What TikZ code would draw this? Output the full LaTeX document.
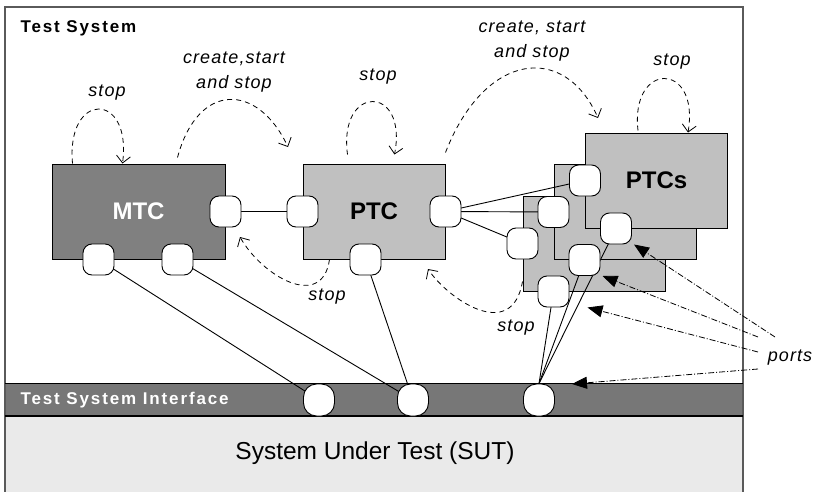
\documentclass[tikz,border=0pt]{standalone}
\usepackage{fontspec}
\setmainfont{Liberation Sans}
\newfontfamily\widefont[LetterSpace=11]{Liberation Sans}
\newfontfamily\labelfont[LetterSpace=6]{Liberation Sans}
\usetikzlibrary{calc,arrows.meta}

\definecolor{mtcgray}{HTML}{808080}
\definecolor{ptcgray}{HTML}{C0C0C0}
\definecolor{bandgray}{HTML}{777777}
\definecolor{sutgray}{HTML}{EAEAEA}
\definecolor{framegray}{HTML}{5A5A5A}

\pgfdeclarelayer{back}
\pgfdeclarelayer{wires}
\pgfsetlayers{back,wires,main}

\begin{document}
\begin{tikzpicture}[x=1pt, y=1pt,
    box/.style={draw=black, line width=1pt, fill=ptcgray, minimum width=142pt, minimum height=95pt, inner sep=0pt, font=\fontsize{24}{28}\selectfont\bfseries},
    port/.style={draw=black, line width=0.9pt, fill=white, rounded corners=9pt, minimum size=31pt, inner sep=0pt},
    ifport/.style={port, minimum height=32pt, rounded corners=13pt},
    wire/.style={line width=0.9pt},
    msg/.style={line width=0.8pt, dash pattern=on 5pt off 4pt, -{Straight Barb[length=7pt,width=14pt]}},
    lbl/.style={font=\labelfont\fontsize{18}{25}\selectfont\itshape, align=center},
    hint/.style={line width=0.8pt, dash pattern=on 6pt off 2pt on 1pt off 2pt, -{Triangle[length=15pt,width=12pt]}}]

    \useasboundingbox (0,0) rectangle (813,491);
    
    \begin{pgfonlayer}{back}
    \fill[white] (0,0) rectangle (813,491);
    
    \node[fill=sutgray, minimum width=738pt, minimum height=76pt, inner sep=0pt, anchor=south west] (sut) at (5,-1) {};
    
    \node[fill=bandgray, minimum width=738pt, minimum height=32pt, inner sep=0pt, anchor=south west] (tsi) at (5,75) {};
    
    \draw[framegray, line width=1.2pt] (5,-2) rectangle (743,484);
    \draw[line width=1.5pt] (tsi.north west) -- (tsi.north east);
    \draw[line width=1.5pt] (tsi.south west) -- (tsi.south east);
    
    \node[box, fill=mtcgray, text=white, minimum width=173pt] (mtc) at (138.5,279.5) {MTC};
    
    \node[box] (ptc) at (374,279.5) {PTC};
    
    \node[box] (pcc) at (594,247.5) {};
    
    \node[box] (pcb) at ($(pcc) + (31,31.5)$) {};
    
    \node[box] (pca) at ($(pcb) + (31.5,31.5)$) {PTCs};
    \end{pgfonlayer}
    
    \node[font=\fontsize{24.5}{28}\selectfont] (sutlabel) at (375,38) {System Under Test (SUT)};
    
    \node[anchor=west, text=white, font=\widefont\fontsize{17}{20}\selectfont\bfseries] (tsilabel) at (17,91) {Test System Interface};
    
    \node[anchor=west, font=\widefont\fontsize{17}{20}\selectfont\bfseries] (tslabel) at (17,463) {Test System};
    
    \node[port] (mtcE) at (mtc.east) {};
    \node[port] (mtcB1) at ($(mtc.south west) + (47,0)$) {};
    \node[port] (mtcB2) at ($(mtc.south west) + (126,0)$) {};
    
    \node[port] (ptcW) at (ptc.west) {};
    \node[port] (ptcE) at (ptc.east) {};
    \node[port] (ptcB) at ($(ptc.south west) + (63,0)$) {};
    
    \foreach \b in {pcc,pcb,pca} {
        \node[port] (\b W) at (\b.west) {};
        \node[port] (\b B) at ($(\b.south west) + (31,0)$) {};
    }
    
    \node[ifport] (ifA) at (319,91) {};
    \node[ifport] (ifB) at (413,91) {};
    \node[ifport] (ifC) at (539,91) {};
    
    \begin{pgfonlayer}{wires}
    \draw[wire] (mtcE.center) -- (ptcW.center);
    \draw[wire] (ptcE.center) -- (pcaW.center);
    \draw[wire] (ptcE.center) -- (pcbW.center);
    \draw[wire] (ptcE.center) -- (pccW.center);
    
    \draw[wire] (mtcB1.center) -- (ifA.center);
    \draw[wire] (mtcB2.center) -- (ifB.center);
    \draw[wire] (ptcB.center) -- (ifB.center);
    
    \draw[wire] (pcaB.center) -- (ifC.north);
    \draw[wire] (pcbB.center) -- (ifC.north);
    \draw[wire] (pccB.center) -- (ifC.north);
    \end{pgfonlayer}
    
    \draw[msg] ($(mtc.north west) + (21,0)$) .. controls (66,400) and (132,400) .. ($(mtc.north west) + (71,0)$);
    \node[lbl] (stopa) at (107,398) {stop};
    
    \draw[msg] ($(mtc.north west) + (126,6)$) .. controls (198,410) and (258,408) .. (288,344);
    \node[lbl] (csa) at (234,419) {create,start\\and stop};
    
    \draw[msg] ($(ptc.north west) + (45,9)$) .. controls (338,407) and (408,407) .. ($(ptc.north west) + (92,9)$);
    \node[lbl] (stopb) at (378,414) {stop};
    
    \draw[msg] ($(ptc.north east) + (0,11)$) .. controls (485,440) and (565,448) .. (598,373);
    \node[lbl] (csb) at (532,450) {create, start\\and stop};
    
    \draw[msg] ($(pca.north west) + (53,2)$) .. controls (630,430) and (700,430) .. ($(pca.north west) + (103,0)$);
    \node[lbl] (stopc) at (672,429) {stop};
    
    \draw[msg] ($(ptc.south west) + (27,0)$) .. controls (322,180) and (262,215) .. (240,254);
    \node[lbl] (stopd) at (327,194) {stop};
    
    \draw[msg] ($(pcc.west) + (0,-38)$) .. controls (512,148) and (448,192) .. (428,222);
    \node[lbl] (stope) at (516,163) {stop};
    
    \node[lbl] (ports) at (790,133) {ports};
    
    \draw[hint] ($(ports) + (-15,21)$) -- ($(pcaB) + (18,-16)$);
    \draw[hint] ($(ports) + (-32,21)$) -- ($(pcbB) + (18,-16)$);
    \draw[hint] ($(ports) + (-32,6)$) -- ($(pccB) + (34,-16)$);
    \draw[hint] ($(ports) + (-32,-11)$) -- ($(ifC) + (33,16)$);
    
\end{tikzpicture}
\end{document}
